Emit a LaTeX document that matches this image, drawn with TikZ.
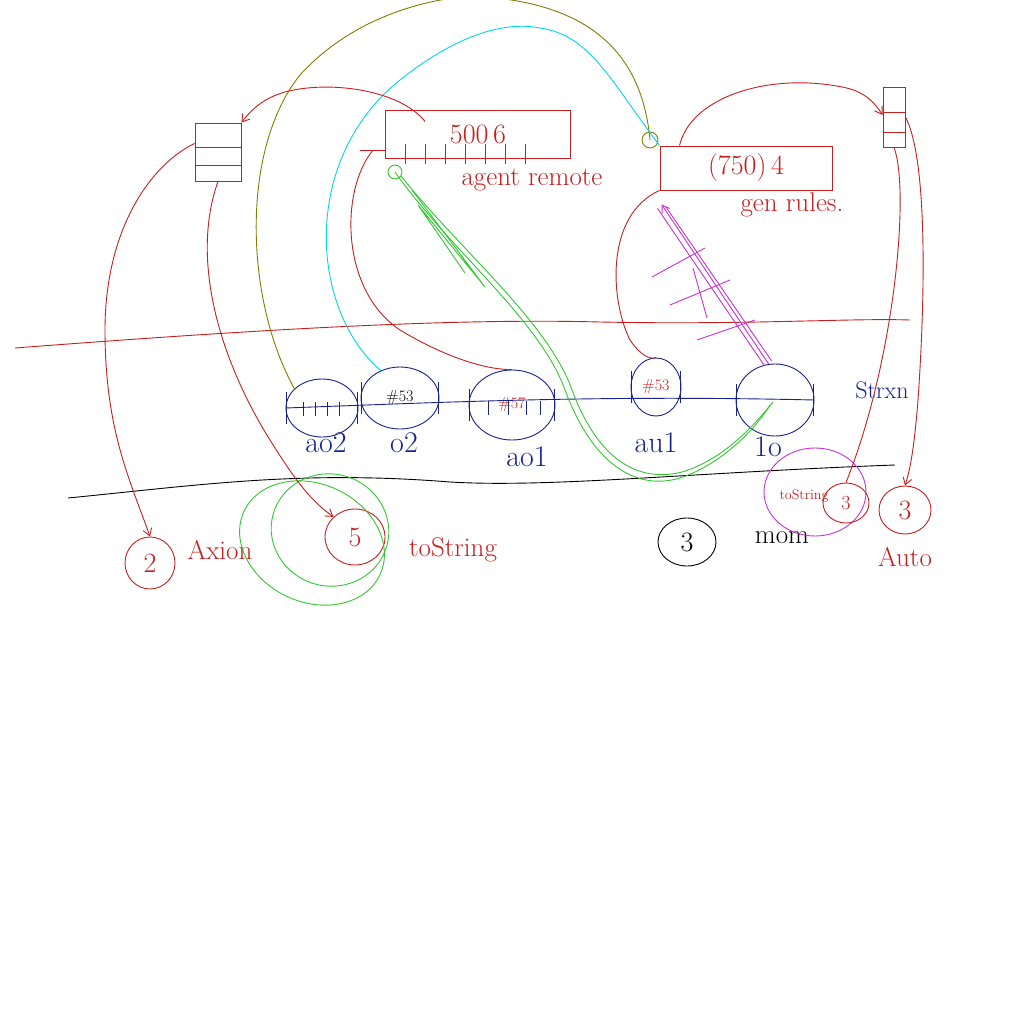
\documentclass[tikz,border=0pt]{standalone}
\usetikzlibrary{shapes.geometric,arrows.meta,calc}
\definecolor{pred}{RGB}{200,30,30}
\definecolor{pblue}{RGB}{25,35,140}
\definecolor{polive}{RGB}{130,125,0}
\definecolor{pcyan}{RGB}{0,215,230}
\definecolor{pgreen}{RGB}{50,200,50}
\definecolor{pmag}{RGB}{200,50,210}
\tikzset{
  ink/.style={line width=0.9pt},
  redink/.style={ink,draw=pred},
  stackbox/.style={draw=pred,ink,rectangle,inner sep=0pt},
  rbox/.style={draw=pred,ink,rectangle,inner sep=0pt,text=pred,font=\fontsize{28}{30}\selectfont},
  bell/.style={draw=pblue,ink,ellipse,inner sep=0pt,font=\fontsize{16}{18}\selectfont},
  blab/.style={text=pblue,font=\fontsize{30}{32}\selectfont},
  rlab/.style={text=pred,font=\fontsize{27}{30}\selectfont},
  rcirc/.style={draw=pred,ink,ellipse,inner sep=0pt,text=pred,font=\fontsize{28}{30}\selectfont},
  arr/.style={-{Straight Barb[length=7pt,width=9pt]}},
}
\begin{document}
\begin{tikzpicture}[x=1pt,y=-1pt]
\useasboundingbox (0,0) rectangle (1024,1024);
\fill[white] (0,0) rectangle (1024,1024);

% separator lines
\coordinate (rl0) at (15,348);
\coordinate (rl1) at (910,320);
\draw[redink] (rl0) .. controls (250,330) and (450,318) .. (600,322) .. controls (750,325) and (850,318) .. (rl1);
\coordinate (bl0) at (68,498);
\coordinate (bl1) at (895,465);
\draw[ink,black] (bl0) .. controls (200,485) and (300,470) .. (450,482) .. controls (550,488) and (700,472) .. (bl1);

% stacks
\node[stackbox,minimum width=46,minimum height=58] (ls) at (218,152) {};
\draw[redink] ($(ls.north west)!0.42!(ls.south west)$) -- ($(ls.north east)!0.42!(ls.south east)$);
\draw[redink] ($(ls.north west)!0.72!(ls.south west)$) -- ($(ls.north east)!0.72!(ls.south east)$);
\node[stackbox,minimum width=22,minimum height=60] (rs) at (894,117) {};
\draw[redink] ($(rs.north west)!0.42!(rs.south west)$) -- ($(rs.north east)!0.42!(rs.south east)$);
\draw[redink] ($(rs.north west)!0.75!(rs.south west)$) -- ($(rs.north east)!0.75!(rs.south east)$);

% boxes
\node[rbox,minimum width=185,minimum height=48] (b500) at (478,134) {500\,6};
\foreach \x in {20,40,60,80,100,120,140}
  \draw[redink] ($(b500.south west)+(\x,-14)$) -- ($(b500.south west)+(\x,6)$);
\node[rlab] (lagent) at (532,180) {agent remote};
\node[rbox,minimum width=172,minimum height=44] (b750) at (746,168) {(750)\,4};
\node[rlab] (lgen) at (792,205) {gen rules.};

% balls on the string
\node[bell,minimum width=72,minimum height=58] (ao2) at (322,408) {};
\node[bell,minimum width=78,minimum height=62] (o2) at (400,398) {\#53};
\node[bell,minimum width=86,minimum height=70,text=pred] (ao1) at (512,405) {\#57};
\node[bell,minimum width=50,minimum height=58,text=pred] (au1) at (656,387) {\#53};
\node[bell,minimum width=78,minimum height=72] (o1) at (775,400) {};
\draw[ink,draw=pblue] (ao2.west) .. controls (450,402) and (600,395) .. (o1.east);
\foreach \n in {ao2,o2,ao1,au1,o1}{
  \draw[ink,draw=pblue] ($(\n.west)+(1,-16)$) -- ($(\n.west)+(1,16)$);
  \draw[ink,draw=pblue] ($(\n.east)+(-1,-16)$) -- ($(\n.east)+(-1,16)$);
}
\foreach \x in {18,30,42,54} \draw[ink,draw=pblue] ($(ao2.west)+(\x,-6)$) -- ($(ao2.west)+(\x,8)$);
\foreach \x in {20,40,58,72} \draw[ink,draw=pblue] ($(ao1.west)+(\x,-4)$) -- ($(ao1.west)+(\x,10)$);
\node[blab] (lao2) at (326,443) {ao2};
\node[blab] (lo2) at (404,443) {o2};
\node[blab] (lao1) at (527,457) {ao1};
\node[blab] (lau1) at (656,443) {au1};
\node[blab] (lo1) at (768,447) {1o};
\node[blab,font=\fontsize{24}{26}\selectfont] (lstr) at (882,390) {Strxn};

% bottom row
\node[rcirc,minimum width=50,minimum height=52] (c2) at (150,563) {2};
\node[rlab] (laxion) at (220,550) {Axion};
\node[rcirc,minimum width=60,minimum height=56] (c5) at (355,537) {5};
\node[rlab] (lts) at (453,550) {toString};
\node[draw=pgreen,ink,ellipse,minimum width=150,minimum height=118,rotate=-25] (g1) at (312,543) {};
\node[draw=pgreen,ink,ellipse,minimum width=118,minimum height=112,rotate=-15] (g2) at (330,530) {};
\node[draw=black,ink,ellipse,minimum width=58,minimum height=48,font=\fontsize{28}{30}\selectfont] (c3) at (687,542) {3};
\node[font=\fontsize{27}{30}\selectfont] (lmom) at (782,538) {mom};
\node[draw=pmag,ink,ellipse,minimum width=102,minimum height=88] (pe) at (815,492) {};
\node[rcirc,minimum width=46,minimum height=40,font=\fontsize{20}{22}\selectfont] (c3b) at (846,503) {3};
\node[text=pred,font=\fontsize{14}{15}\selectfont] (lts2) at (804,496) {toString};
\node[rcirc,minimum width=52,minimum height=48] (cauto) at (905,510) {3};
\node[rlab] (lauto) at (905,557) {Auto};

% olive connector
\coordinate (olv) at (650,140);
\draw[ink,draw=polive] (olv) circle[radius=8];
\draw[ink,draw=polive] (ao2.145) .. controls (245,300) and (240,150) .. (300,75) .. controls (350,20) and (420,0) .. (470,-4) .. controls (560,0) and (640,30) .. (olv);

% cyan connector
\draw[ink,draw=pcyan] (o2.125) .. controls (310,310) and (300,160) .. (400,80) .. controls (450,40) and (500,20) .. (540,28) .. controls (590,35) and (610,80) .. (b750.north west);

% green connector
\coordinate (gl) at (395,172);
\draw[ink,draw=pgreen] (gl) circle[radius=7];
\draw[ink,draw=pgreen] (gl) .. controls (450,250) and (540,320) .. (565,390) .. controls (595,470) and (640,490) .. (680,478) .. controls (720,465) and (755,430) .. ($(o1.center)+(-5,5)$);
\draw[ink,draw=pgreen] ($(gl)+(6,4)$) .. controls (460,250) and (548,322) .. (572,390) .. controls (600,465) and (642,482) .. (682,472) .. controls (722,460) and (752,428) .. ($(o1.center)+(-2,2)$);
\draw[ink,draw=pgreen] (412,190) -- (485,287) -- (418,205) -- (465,273);

% magenta connector
\draw[ink,draw=pmag,arr] (o1.100) -- ($(b750.south west)+(2,14)$);
\draw[ink,draw=pmag] ($(o1.100)+(-4,2)$) -- ($(b750.south west)+(-2,18)$);
\draw[ink,draw=pmag] ($(o1.100)+(3,-3)$) -- ($(b750.south west)+(6,16)$);
\draw[ink,draw=pmag] (652,277) -- (705,248);
\draw[ink,draw=pmag] (670,305) -- (730,280);
\draw[ink,draw=pmag] (697,340) -- (755,320);
\draw[ink,draw=pmag] (693,268) -- (707,318);

% red connectors
\draw[redink,arr] ($(b500.north west)+(40,12)$) .. controls (400,90) and (330,80) .. (285,92) .. controls (268,97) and (255,105) .. (ls.north east);
\draw[redink,arr] ($(b750.north west)+(20,0)$) .. controls (690,100) and (760,75) .. (830,85) .. controls (852,88) and (868,92) .. (rs.170);
\draw[redink,arr] (ls.160) .. controls (150,165) and (105,230) .. (105,330) .. controls (105,430) and (130,480) .. (c2.north);
\draw[redink,arr] (ls.south) .. controls (190,260) and (220,360) .. (270,440) .. controls (295,480) and (310,500) .. (c5.north west);
\draw[redink] ($(b500.west)+(-25,16)$) -- ($(b500.west)+(0,16)$);
\draw[redink] ($(b500.west)+(-12,16)$) .. controls (340,190) and (340,290) .. (400,330) .. controls (450,360) and (490,370) .. (ao1.north);
\draw[redink] (b750.south west) .. controls (605,215) and (610,300) .. (630,340) .. controls (640,355) and (650,360) .. (au1.north);
\draw[redink,arr] (rs.east) .. controls (928,160) and (925,300) .. (918,400) .. controls (914,450) and (910,470) .. (cauto.north);
\draw[redink] (rs.south) .. controls (910,190) and (895,360) .. (c3b.north);
\end{tikzpicture}
\end{document}
